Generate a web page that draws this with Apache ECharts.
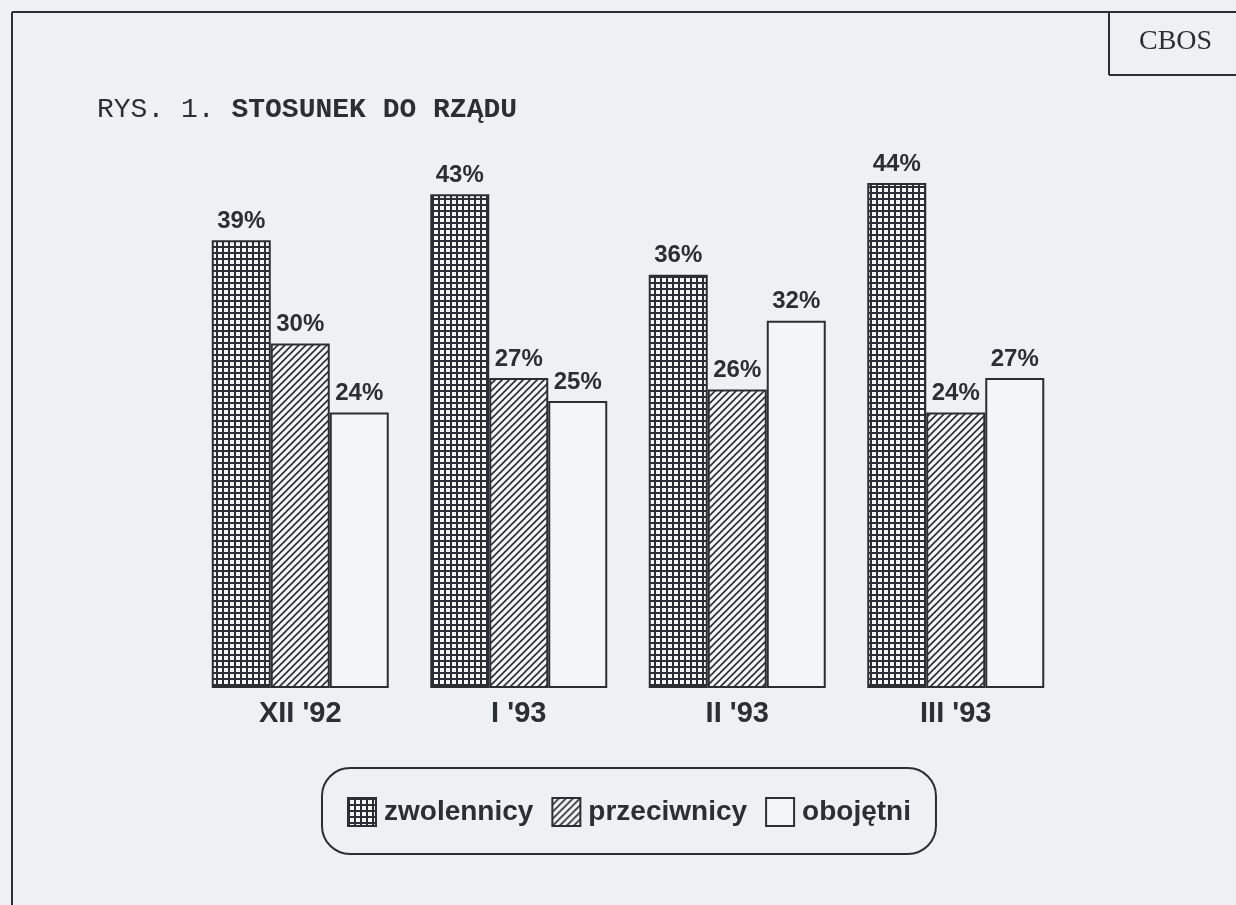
<!DOCTYPE html>
<html>
<head>
<meta charset="utf-8">
<script src="https://cdn.jsdelivr.net/npm/echarts@6/dist/echarts.min.js"></script>
<style>
html,body{margin:0;padding:0;background:#eef0f3;}
#c{width:1236px;height:905px;}
</style>
</head>
<body>
<div id="c"></div>
<script>
const categories = ["XII '92", "I '93", "II '93", "III '93"];
const seriesNames = ["zwolennicy", "przeciwnicy", "obojętni"];
const zwolennicy = [39, 43, 36, 44];
const przeciwnicy = [30, 27, 26, 24];
const obojetni = [24, 25, 32, 27];

const INK = '#2b2f33';
const PAPER = '#eef0f3';

function gridPattern() {
  const c = document.createElement('canvas');
  c.width = 6; c.height = 6;
  const g = c.getContext('2d');
  g.fillStyle = '#f4f5f6'; g.fillRect(0, 0, 6, 6);
  g.fillStyle = INK;
  g.fillRect(0, 0, 2, 6);
  g.fillRect(0, 0, 6, 2);
  return c;
}
function hatchPattern() {
  const s = 7;
  const c = document.createElement('canvas');
  c.width = s; c.height = s;
  const g = c.getContext('2d');
  g.fillStyle = '#f4f5f6'; g.fillRect(0, 0, s, s);
  g.strokeStyle = INK; g.lineWidth = 1.6;
  g.beginPath();
  g.moveTo(-1, s + 1); g.lineTo(s + 1, -1);
  g.moveTo(-1, 1); g.lineTo(1, -1);
  g.moveTo(s - 1, s + 1); g.lineTo(s + 1, s - 1);
  g.stroke();
  return c;
}

const fills = [
  { image: gridPattern(), repeat: 'repeat' },
  { image: hatchPattern(), repeat: 'repeat' },
  '#f4f5f6'
];
const dataSets = [zwolennicy, przeciwnicy, obojetni];

const chart = echarts.init(document.getElementById('c'), null, { renderer: 'canvas' });

const labelFont = { fontFamily: 'Liberation Sans, Arial, sans-serif', fontWeight: 'bold', color: INK };

chart.setOption({
  backgroundColor: PAPER,
  animation: false,
  grid: { left: 191, right: 171, top: 114, bottom: 217 },
  xAxis: {
    type: 'category',
    data: categories,
    axisLine: { show: false },
    axisTick: { show: false },
    axisLabel: Object.assign({ fontSize: 29, margin: 11 }, labelFont)
  },
  yAxis: {
    type: 'value', min: 0, max: 50, interval: 10,
    show: false, splitLine: { show: false }
  },
  legend: {
    data: seriesNames,
    left: 322, top: 768,
    padding: [29, 25, 27, 25],
    borderColor: INK, borderWidth: 2, borderRadius: 28,
    itemWidth: 28, itemHeight: 28, itemGap: 18,
    icon: 'rect',
    itemStyle: { borderColor: INK, borderWidth: 2 },
    textStyle: Object.assign({ fontSize: 28, padding: [0, 0, 0, 3] }, labelFont)
  },
  series: seriesNames.map((name, i) => ({
    name: name,
    type: 'bar',
    data: dataSets[i],
    barWidth: 59,
    barGap: '0%',
    itemStyle: { color: fills[i], borderColor: INK, borderWidth: 2 },
    label: Object.assign({
      show: true, position: 'top', distance: 7, fontSize: 24,
      formatter: '{c}%'
    }, labelFont)
  })),
  graphic: [
    { type: 'line', shape: { x1: 12, y1: 12, x2: 12, y2: 905 }, style: { stroke: INK, lineWidth: 2 } },
    { type: 'line', shape: { x1: 12, y1: 12, x2: 1236, y2: 12 }, style: { stroke: INK, lineWidth: 2 } },
    { type: 'line', shape: { x1: 1109, y1: 12, x2: 1109, y2: 75 }, style: { stroke: INK, lineWidth: 2 } },
    { type: 'line', shape: { x1: 1109, y1: 75, x2: 1236, y2: 75 }, style: { stroke: INK, lineWidth: 2 } },
    { type: 'text', left: 1139, top: 28, style: { text: 'CBOS', fontFamily: 'Liberation Serif, serif', fontSize: 28, fill: INK } },
    { type: 'text', left: 97, top: 96, style: {
        text: '{a|RYS. 1. }{b|STOSUNEK DO RZĄDU}',
        rich: {
          a: { fontFamily: 'Liberation Mono, Courier New, monospace', fontSize: 28, fill: INK, color: INK },
          b: { fontFamily: 'Liberation Mono, Courier New, monospace', fontSize: 28, fontWeight: 'bold', fill: INK, color: INK }
        }
    } }
  ]
});
</script>
</body>
</html>
